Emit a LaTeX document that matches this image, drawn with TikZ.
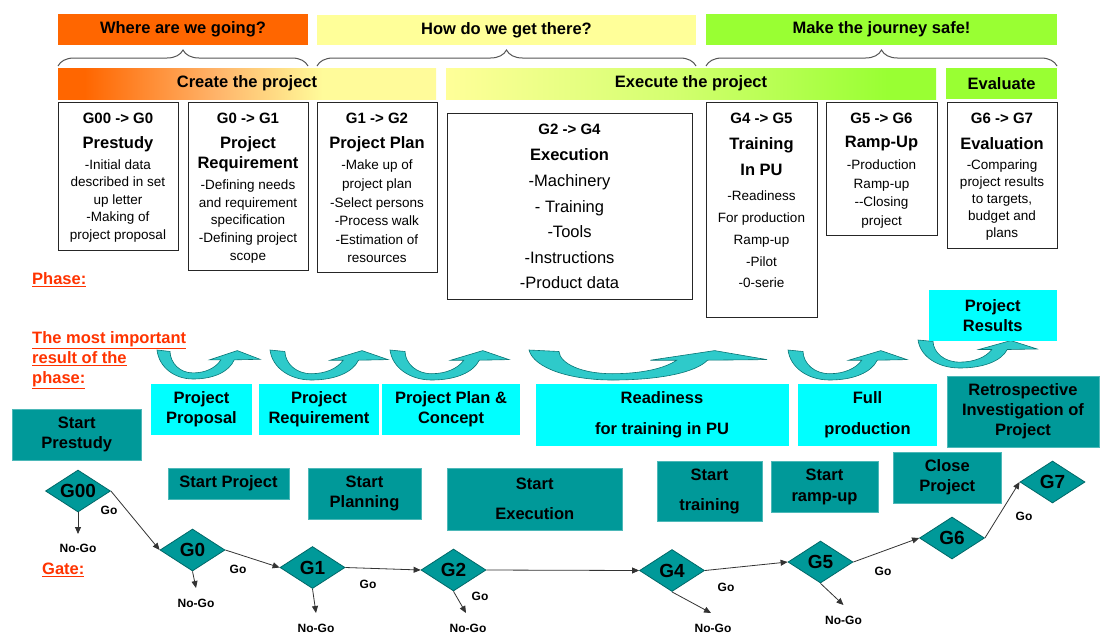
\documentclass[tikz,border=0pt]{standalone}
\usepackage{fontspec}
\setmainfont{Liberation Sans}
\usetikzlibrary{shapes.geometric,arrows.meta,decorations.pathreplacing}

\definecolor{hdrorange}{HTML}{FF6600}
\definecolor{hdryellow}{HTML}{FFFF99}
\definecolor{hdrgreen}{HTML}{99FF33}
\definecolor{paleyellow}{HTML}{FFFB9A}
\definecolor{createmid}{HTML}{FFB46A}
\definecolor{executemid}{HTML}{D4FF70}
\definecolor{resultcyan}{HTML}{00FFFF}
\definecolor{gateteal}{HTML}{009999}
\definecolor{gateedge}{HTML}{006868}
\definecolor{labelred}{HTML}{FF3300}
\definecolor{bendfill}{HTML}{2ECACA}
\definecolor{bendedge}{HTML}{087575}
\definecolor{bracegray}{HTML}{555555}

% colour runs of the two stage banners (path spans 25bp..75bp)
\pgfdeclarehorizontalshading{createshade}{100bp}{color(0bp)=(hdrorange); color(28.5bp)=(hdrorange); color(46bp)=(createmid); color(60bp)=(paleyellow); color(100bp)=(paleyellow)}
\pgfdeclarehorizontalshading{executeshade}{100bp}{color(0bp)=(hdryellow); color(25bp)=(hdryellow); color(48bp)=(executemid); color(70bp)=(hdrgreen); color(100bp)=(hdrgreen)}

% curved "result" arrow fitted into a box: left/top corner, width, height
\newcommand\bendarrow[4]{%
  \begin{scope}[shift={(#1,#2)}, xscale=#3, yscale=#4]
    \path[bendshape] (0,0) .. controls (0.02,0.6) and (0.17,1) .. (0.35,1)
      .. controls (0.55,1) and (0.70,0.75) .. (0.75,0.34)
      -- (1,0.32) -- (0.78,0.02) -- (0.51,0.34) -- (0.62,0.34)
      .. controls (0.57,0.62) and (0.47,0.79) .. (0.35,0.79)
      .. controls (0.22,0.79) and (0.13,0.45) .. (0.126,0.05) -- cycle;
  \end{scope}}

\begin{document}
\begin{tikzpicture}[x=1pt,y=-1pt,
  hdr/.style={inner sep=0pt, font=\fontsize{16.5}{18}\selectfont\bfseries},
  phasebox/.style={draw=black!85, line width=1pt, fill=white, inner sep=0pt},
  phasehead/.style={inner sep=0pt, font=\fontsize{15}{15}\selectfont\bfseries},
  phasetitle/.style={inner sep=0pt, align=center, font=\fontsize{16.5}{#1}\selectfont\bfseries},
  phasetext/.style={inner sep=0pt, align=center, font=\fontsize{13.5}{#1}\selectfont},
  resultbox/.style={fill=resultcyan, inner sep=0pt, align=center, font=\fontsize{16.5}{#1}\selectfont\bfseries},
  startbox/.style={fill=gateteal, draw=gateteal!70!white, line width=0.8pt, inner sep=0pt, align=center, font=\fontsize{16.5}{#1}\selectfont\bfseries},
  gate/.style={diamond, aspect=1.5, draw=gateedge, fill=gateteal, line width=0.8pt, minimum width=65pt, minimum height=42pt, inner sep=0pt, font=\fontsize{19}{19}\selectfont\bfseries},
  flow/.style={draw=black!80, line width=0.8pt, -{Triangle[length=7pt,width=6pt]}},
  golabel/.style={inner sep=0pt, font=\fontsize{12}{12}\selectfont\bfseries},
  sidelabel/.style={inner sep=0pt, anchor=west, align=left, text=labelred, font=\fontsize{16.5}{20}\selectfont\bfseries},
  bracestroke/.style={draw=bracegray, line width=1pt, decorate, decoration={brace, amplitude=16pt, raise=0pt}},
  bendshape/.style={fill=bendfill, draw=bendedge, line width=0.6pt}
]
\useasboundingbox (0,0) rectangle (1100,633);
\fill[white] (0,0) rectangle (1100,633);

% ---- questions on top
\node[hdr, fill=hdrorange, minimum width=250pt, minimum height=31pt] (where) at (183,29) {Where are we going?};
\node[hdr, fill=hdryellow, minimum width=379pt, minimum height=30pt] (how) at (506.5,30) {How do we get there?};
\node[hdr, fill=hdrgreen, minimum width=351pt, minimum height=31pt] (safe) at (881.5,29.5) {Make the journey safe!};

\draw[bracestroke] (58,66) -- (308,66);
\draw[bracestroke] (317,66) -- (696,66);
\draw[bracestroke] (706,66) -- (1057,66);

% ---- stage banners
\node[hdr, shading=createshade, minimum width=378pt, minimum height=31pt] (create) at (247,83.5) {Create the project};
\node[hdr, shading=executeshade, minimum width=490pt, minimum height=31pt] (execute) at (691,83.5) {Execute the project};
\node[hdr, fill=hdrgreen, minimum width=111pt, minimum height=31pt] (evaluate) at (1001.5,83.5) {Evaluate};

% ---- phase boxes
\node[phasebox, minimum width=120pt, minimum height=148pt] (p1) at (118,176) {};
\node[phasehead] (p1g) at (118,118) {G00 -> G0};
\node[phasetitle=20] (p1t) at (118,144) {Prestudy};
\node[phasetext=17.5] (p1b) at (118,201) {-Initial data\\described in set\\up letter\\-Making of\\project proposal};

\node[phasebox, minimum width=120pt, minimum height=168pt] (p2) at (248,186) {};
\node[phasehead] (p2g) at (248,118) {G0 -> G1};
\node[phasetitle=20] (p2t) at (248,154) {Project\\Requirement};
\node[phasetext=17.75] (p2b) at (248,221.5) {-Defining needs\\and requirement\\specification\\-Defining project\\scope};

\node[phasebox, minimum width=120pt, minimum height=170pt] (p3) at (377,187) {};
\node[phasehead] (p3g) at (377,118) {G1 -> G2};
\node[phasetitle=20] (p3t) at (377,144) {Project Plan};
\node[phasetext=18.6] (p3b) at (377,211.5) {-Make up of\\project plan\\-Select persons\\-Process walk\\-Estimation of\\resources};

\node[phasebox, minimum width=245pt, minimum height=186pt] (p4) at (569.5,206) {};
\node[phasehead] (p4g) at (569.5,129) {G2 -> G4};
\node[phasetitle=20] (p4t) at (569.5,155) {Execution};
\node[inner sep=0pt, align=center, font=\fontsize{16.5}{25.5}\selectfont] (p4b) at (569.5,232) {-Machinery\\- Training\\-Tools\\-Instructions\\-Product data};

\node[phasebox, minimum width=111pt, minimum height=215pt] (p5) at (761.5,209.5) {};
\node[phasehead] (p5g) at (761.5,118) {G4 -> G5};
\node[phasetitle=26] (p5t) at (761.5,157) {Training\\In PU};
\node[phasetext=21.75] (p5b) at (761.5,239.5) {-Readiness\\For production\\Ramp-up\\-Pilot\\-0-serie};

\node[phasebox, minimum width=111pt, minimum height=133pt] (p6) at (881.5,168.5) {};
\node[phasehead] (p6g) at (881.5,118) {G5 -> G6};
\node[phasetitle=20] (p6t) at (881.5,144) {Ramp-Up};
\node[phasetext=18.7] (p6b) at (881.5,194) {-Production\\Ramp-up\\-{}-Closing\\project};

\node[phasebox, minimum width=110pt, minimum height=146pt] (p7) at (1002,175) {};
\node[phasehead] (p7g) at (1002,118) {G6 -> G7};
\node[phasetitle=20] (p7t) at (1002,144) {Evaluation};
\node[phasetext=17] (p7b) at (1002,200) {-Comparing\\project results\\to targets,\\budget and\\plans};

% ---- row captions
\node[sidelabel] (phaselbl) at (32,280) {\underline{Phase:}};
\node[sidelabel] (resultlbl) at (32,360) {\underline{The most important}\\\underline{result of the}\\\underline{phase:}};
\node[sidelabel] (gatelbl) at (42,570) {\underline{Gate:}};

% ---- curved result arrows
\bendarrow{157}{350}{103}{29}
\bendarrow{270}{350}{118}{30}
\bendarrow{390}{350}{119}{30}
\bendarrow{529}{350}{238}{30}
\bendarrow{788}{350}{119}{30}
\bendarrow{918}{340}{119}{28}

% ---- phase results
\node[resultbox=20, minimum width=101pt, minimum height=51pt] (r1) at (201.5,409.5) {Project\\Proposal};
\node[resultbox=20, minimum width=120pt, minimum height=51pt] (r2) at (319,409.5) {Project\\Requirement};
\node[resultbox=20, minimum width=138pt, minimum height=51pt] (r3) at (451,409.5) {Project Plan \&\\Concept};
\node[resultbox=31, minimum width=253pt, minimum height=62pt] (r4) at (662,415) {Readiness\\for training in PU};
\node[resultbox=31, minimum width=139pt, minimum height=62pt] (r5) at (867.5,415) {Full\\production};
\node[resultbox=20, minimum width=128.5pt, minimum height=51pt] (r7) at (992.75,315.5) {Project\\Results};
\node[startbox=20, minimum width=152pt, minimum height=71pt] (r6) at (1023,411.5) {Retrospective\\Investigation of\\Project};

% ---- gate start boxes
\node[startbox=20, minimum width=128.5pt, minimum height=51pt] (s0) at (76.75,434.5) {Start\\Prestudy};
\node[startbox=20, minimum width=121pt, minimum height=31pt] (s1) at (228.5,483.5) {Start Project};
\node[startbox=20, minimum width=113pt, minimum height=51pt] (s2) at (364.5,493.5) {Start\\Planning};
\node[startbox=30, minimum width=174.5pt, minimum height=62pt] (s3) at (534.75,499) {Start\\Execution};
\node[startbox=30, minimum width=105pt, minimum height=60pt] (s4) at (709.5,491) {Start\\training};
\node[startbox=21, minimum width=107pt, minimum height=51pt] (s5) at (824.5,486.5) {Start\\ramp-up};
\node[startbox=20, minimum width=107.5pt, minimum height=51pt] (s6) at (947.25,477.5) {Close\\Project};

% ---- gates
\node[gate] (g00) at (78,491) {G00};
\node[gate] (g0) at (192.5,550) {G0};
\node[gate] (g1) at (312.5,567.5) {G1};
\node[gate] (g2) at (453.5,570) {G2};
\node[gate] (g4) at (672,570.5) {G4};
\node[gate] (g5) at (820.5,562) {G5};
\node[gate] (g6) at (952,538) {G6};
\node[gate] (g7) at (1052.5,482) {G7};

% go path
\draw[flow] (g00.east) -- (g0.west);
\draw[flow] (g0.east) -- (g1.west);
\draw[flow] (g1.east) -- (g2.west);
\draw[flow] (g2.east) -- (g4.west);
\draw[flow] (g4.east) -- (g5.west);
\draw[flow] (g5.east) -- (g6.west);
\draw[flow] (g6.east) -- (g7.west);

\node[golabel] (go00) at (109,510) {Go};
\node[golabel] (go0) at (238,569) {Go};
\node[golabel] (go1) at (368,584) {Go};
\node[golabel] (go2) at (480,596) {Go};
\node[golabel] (go4) at (726,587) {Go};
\node[golabel] (go5) at (883,571) {Go};
\node[golabel] (go6) at (1024,516) {Go};

% no-go exits
\coordinate (x00) at (78,534);
\coordinate (x0) at (196,588);
\coordinate (x1) at (316,613);
\coordinate (x2) at (466,613);
\coordinate (x4) at (711,613);
\coordinate (x5) at (843.5,605);
\draw[flow] (g00.south) -- (x00);
\draw[flow] (g0.south) -- (x0);
\draw[flow] (g1.south) -- (x1);
\draw[flow] (g2.south) -- (x2);
\draw[flow] (g4.south) -- (x4);
\draw[flow] (g5.south) -- (x5);

\node[golabel] (ng00) at (78,548) {No-Go};
\node[golabel] (ng0) at (196,603) {No-Go};
\node[golabel] (ng1) at (316,628) {No-Go};
\node[golabel] (ng2) at (468,628) {No-Go};
\node[golabel] (ng4) at (713,628) {No-Go};
\node[golabel] (ng5) at (843.5,620) {No-Go};
\end{tikzpicture}
\end{document}
